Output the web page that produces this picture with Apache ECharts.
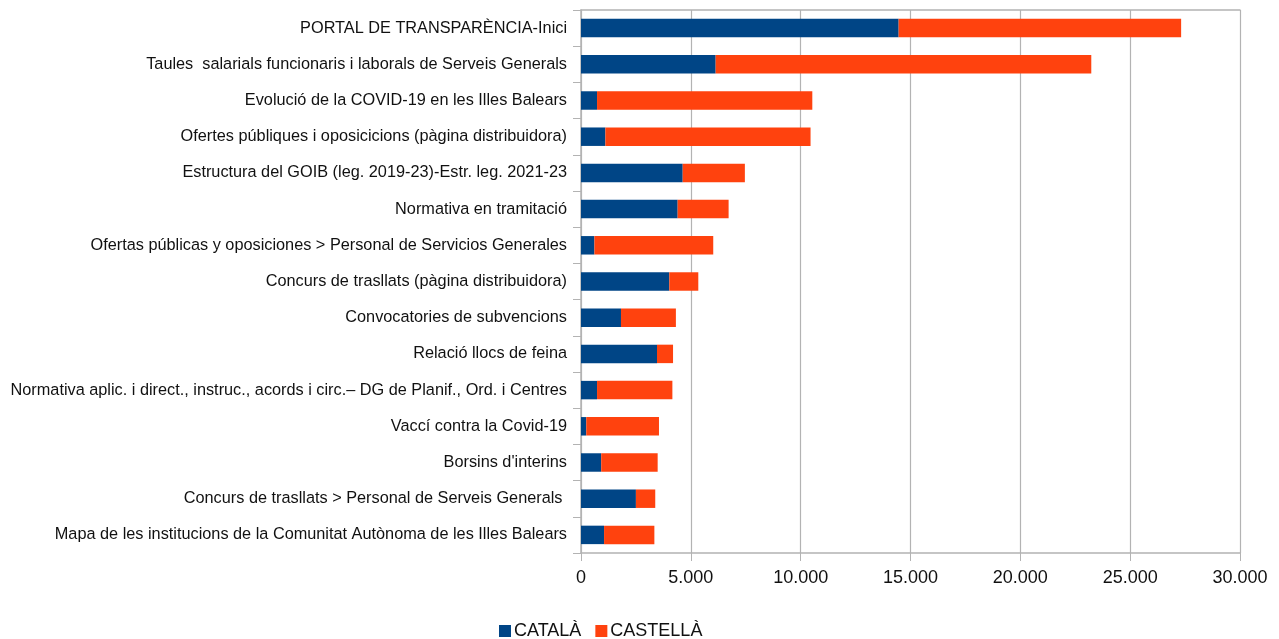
<!DOCTYPE html>
<html>
<head>
<meta charset="utf-8">
<script src="https://cdn.jsdelivr.net/npm/echarts@6/dist/echarts.min.js"></script>
<style>html,body{margin:0;padding:0;background:#fff}#c{width:1279px;height:639px}</style>
</head>
<body>
<div id="c"></div>
<script>
const categories = [
  "PORTAL DE TRANSPARÈNCIA-Inici",
  "Taules  salarials funcionaris i laborals de Serveis Generals",
  "Evolució de la COVID-19 en les Illes Balears",
  "Ofertes públiques i oposicicions (pàgina distribuidora)",
  "Estructura del GOIB (leg. 2019-23)-Estr. leg. 2021-23",
  "Normativa en tramitació",
  "Ofertas públicas y oposiciones > Personal de Servicios Generales",
  "Concurs de trasllats (pàgina distribuidora)",
  "Convocatories de subvencions",
  "Relació llocs de feina",
  "Normativa aplic. i direct., instruc., acords i circ.– DG de Planif., Ord. i Centres",
  "Vaccí contra la Covid-19",
  "Borsins d'interins",
  "Concurs de trasllats > Personal de Serveis Generals ",
  "Mapa de les institucions de la Comunitat Autònoma de les Illes Balears"
];
const catala   = [14460, 6130, 730, 1110, 4630, 4400, 610, 4020, 1820, 3460, 730, 240, 920, 2500, 1050];
const castella = [12860, 17100, 9800, 9340, 2830, 2320, 5410, 1320, 2500, 730, 3430, 3310, 2570, 880, 2290];
const seriesNames = ["CATALÀ", "CASTELLÀ"];
const xTicks = { min: 0, max: 30000, interval: 5000 };

const fmt = v => String(v).replace(/\B(?=(\d{3})+(?!\d))/g, '.');
const gridColor = '#b3b3b3';
const textColor = '#111';
const font = 'Liberation Sans, Arial, sans-serif';

const chart = echarts.init(document.getElementById('c'));
chart.setOption({
  animation: false,
  textStyle: { fontFamily: font },
  grid: { left: 581, right: 39, top: 10, bottom: 86, containLabel: false },
  legend: {
    left: 494, top: 617,
    icon: 'rect', itemWidth: 12, itemHeight: 12, itemGap: 14,
    textStyle: { fontSize: 18, color: textColor, fontFamily: font, padding: [0,0,0,-2] },
    data: seriesNames
  },
  xAxis: [{
    type: 'value', min: xTicks.min, max: xTicks.max, interval: xTicks.interval,
    axisLine: { show: true, lineStyle: { color: gridColor, width: 1.5 } },
    axisTick: { show: true, length: 8, lineStyle: { color: gridColor } },
    splitLine: { show: true, lineStyle: { color: gridColor, width: 1.2 } },
    axisLabel: { fontSize: 18, color: textColor, margin: 16, formatter: fmt, fontFamily: font }
  }, {
    type: 'value', position: 'top', min: xTicks.min, max: xTicks.max,
    axisLine: { show: true, lineStyle: { color: gridColor, width: 1.5 } },
    axisTick: { show: false }, axisLabel: { show: false }, splitLine: { show: false }
  }],
  yAxis: {
    type: 'category', data: categories, inverse: true,
    axisLine: { show: true, lineStyle: { color: gridColor, width: 1.5 } },
    axisTick: { show: true, length: 8, lineStyle: { color: gridColor } },
    axisLabel: { fontSize: 16.3, color: textColor, margin: 14, fontFamily: font }
  },
  series: [
    { name: seriesNames[0], type: 'bar', stack: 'a', data: catala, barWidth: '51%',
      itemStyle: { color: '#004586' } },
    { name: seriesNames[1], type: 'bar', stack: 'a', data: castella, barWidth: '51%',
      itemStyle: { color: '#ff420e' } }
  ]
});
</script>
</body>
</html>
